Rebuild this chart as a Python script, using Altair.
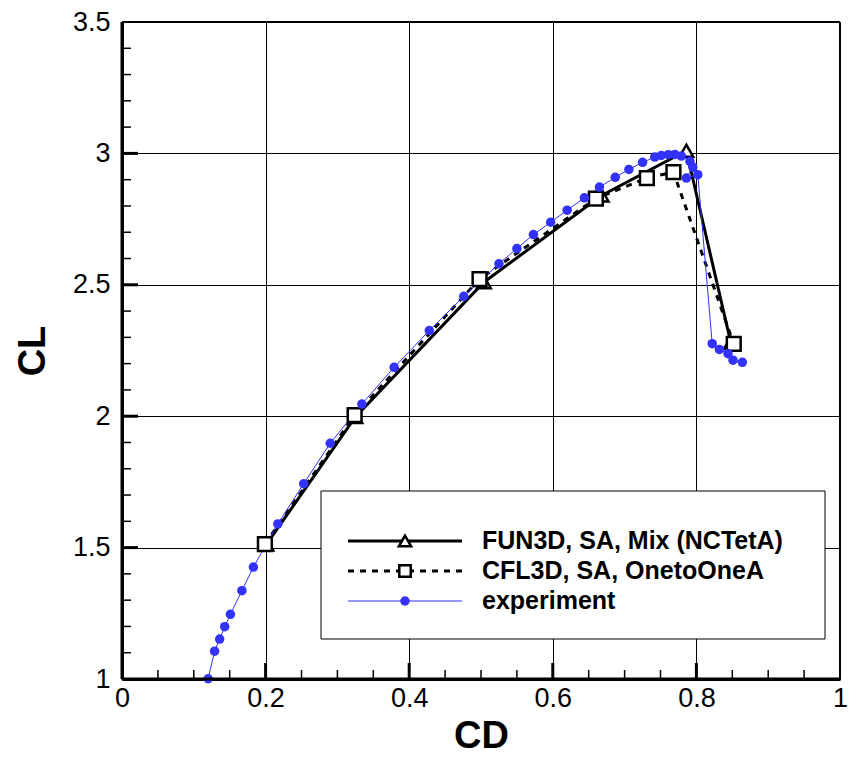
import altair as alt
import pandas as pd

# ---- data ----
fun3d_cd = [0.201, 0.325, 0.504, 0.668, 0.786, 0.848]
fun3d_cl = [1.512, 1.997, 2.510, 2.840, 3.010, 2.279]

cfl3d_cd = [0.199, 0.324, 0.498, 0.660, 0.731, 0.768, 0.852]
cfl3d_cl = [1.513, 2.004, 2.522, 2.828, 2.906, 2.929, 2.275]

exp_cd = [0.120, 0.129, 0.136, 0.143, 0.151, 0.167, 0.183, 0.217, 0.253, 0.290,
          0.334, 0.379, 0.428, 0.476, 0.525, 0.550, 0.573, 0.597, 0.620, 0.644,
          0.665, 0.687, 0.706, 0.725, 0.742, 0.751, 0.761, 0.770, 0.779, 0.791,
          0.795, 0.786, 0.802, 0.822, 0.832, 0.844, 0.851, 0.864]
exp_cl = [1.001, 1.106, 1.152, 1.199, 1.246, 1.336, 1.426, 1.590, 1.743, 1.897,
          2.046, 2.186, 2.326, 2.456, 2.580, 2.638, 2.691, 2.738, 2.784, 2.831,
          2.872, 2.909, 2.939, 2.966, 2.986, 2.992, 2.995, 2.996, 2.990, 2.970,
          2.948, 2.906, 2.919, 2.276, 2.254, 2.238, 2.213, 2.205]

x_major = [0, 0.2, 0.4, 0.6, 0.8, 1]
y_major = [1, 1.5, 2, 2.5, 3, 3.5]
x_minor = [0.05, 0.1, 0.15, 0.25, 0.3, 0.35, 0.45, 0.5, 0.55, 0.65, 0.7, 0.75, 0.85, 0.9, 0.95]
y_minor = [1.1, 1.2, 1.3, 1.4, 1.6, 1.7, 1.8, 1.9, 2.1, 2.2, 2.3, 2.4, 2.6, 2.7, 2.8, 2.9,
           3.1, 3.2, 3.3, 3.4]

legend_labels = ["FUN3D, SA, Mix (NCTetA)", "CFL3D, SA, OnetoOneA", "experiment"]

# ---- layout ----
W, H = 718, 657
XMIN, XMAX, YMIN, YMAX = 0.0, 1.0, 1.0, 3.5
FONT = "Liberation Sans"
BLUE = "#3232fa"
MAJ_LEN, MIN_LEN = 16, 9  # tick lengths in pixels

fun3d = pd.DataFrame({"cd": fun3d_cd, "cl": fun3d_cl, "i": range(len(fun3d_cd))})
cfl3d = pd.DataFrame({"cd": cfl3d_cd, "cl": cfl3d_cl, "i": range(len(cfl3d_cd))})
exp = pd.DataFrame({"cd": exp_cd, "cl": exp_cl, "i": range(len(exp_cd))})

xs = alt.Scale(domain=[XMIN, XMAX], nice=False, zero=False)
ys = alt.Scale(domain=[YMIN, YMAX], nice=False, zero=False)

x_axis = alt.Axis(values=x_major, format="~g", grid=True, gridColor="black", gridWidth=1,
                  gridOpacity=1, ticks=False, labelFontSize=27, labelFont=FONT,
                  labelColor="black", labelPadding=6, labelFlush=False, labelOverlap=False,
                  domain=True, domainColor="black", domainWidth=3, title="CD", titleFont=FONT,
                  titleFontSize=38, titleFontWeight="bold", titleColor="black", titlePadding=6)
y_axis = alt.Axis(values=y_major, format="~g", grid=True, gridColor="black", gridWidth=1,
                  gridOpacity=1, ticks=False, labelFontSize=27, labelFont=FONT,
                  labelColor="black", labelPadding=12, labelFlush=False, labelOverlap=False,
                  domain=True, domainColor="black", domainWidth=3, title="CL", titleFont=FONT,
                  titleFontSize=38, titleFontWeight="bold", titleColor="black", titlePadding=20)

X = lambda: alt.X("cd:Q", scale=xs)
Y = lambda: alt.Y("cl:Q", scale=ys)

base_axes = alt.Chart(exp).mark_point(opacity=0).encode(
    x=alt.X("cd:Q", scale=xs, axis=x_axis), y=alt.Y("cl:Q", scale=ys, axis=y_axis))

# inward tick marks table
tick_rows = ([{"cd": v, "cl": YMIN, "o": "x", "len": MAJ_LEN, "w": 3} for v in x_major[1:-1]] +
             [{"cd": v, "cl": YMIN, "o": "x", "len": MIN_LEN, "w": 1.5} for v in x_minor] +
             [{"cd": XMIN, "cl": v, "o": "y", "len": MAJ_LEN, "w": 3} for v in y_major[1:-1]] +
             [{"cd": XMIN, "cl": v, "o": "y", "len": MIN_LEN, "w": 1.5} for v in y_minor])
tick_df = pd.DataFrame(tick_rows)

xt = alt.Chart(tick_df).transform_filter("datum.o == 'x'").transform_calculate(
    cl2=f"datum.cl + datum.len * {(YMAX - YMIN) / H}").mark_rule(
    color="black", strokeOpacity=1, clip=False).encode(
    x=X(), y=Y(), y2="cl2:Q", strokeWidth=alt.StrokeWidth("w:Q", scale=None))
yt = alt.Chart(tick_df).transform_filter("datum.o == 'y'").transform_calculate(
    cd2=f"datum.cd + datum.len * {(XMAX - XMIN) / W}").mark_rule(
    color="black", strokeOpacity=1, clip=False).encode(
    x=X(), x2="cd2:Q", y=Y(), strokeWidth=alt.StrokeWidth("w:Q", scale=None))

# frame: all four edges, heavier on left/bottom
edges = pd.DataFrame({"cd": [XMIN, XMIN, XMIN, XMAX], "cd2": [XMIN, XMAX, XMAX, XMAX],
                      "cl": [YMIN, YMIN, YMAX, YMIN], "cl2": [YMAX, YMIN, YMAX, YMAX],
                      "w": [3, 3, 2, 2]})
frame = alt.Chart(edges).mark_rule(color="black", strokeOpacity=1, clip=False).encode(
    x=X(), x2="cd2:Q", y=Y(), y2="cl2:Q", strokeWidth=alt.StrokeWidth("w:Q", scale=None))

fun_line = alt.Chart(fun3d).mark_line(color="black", strokeWidth=3).encode(
    x=X(), y=Y(), order="i:Q")
fun_pts = alt.Chart(fun3d).mark_point(shape="triangle-up", filled=True, fill="white",
                                       stroke="black", strokeWidth=2.5, size=190, opacity=1).encode(x=X(), y=Y())
cfl_line = alt.Chart(cfl3d).mark_line(color="black", strokeWidth=3, strokeDash=[6, 6]).encode(
    x=X(), y=Y(), order="i:Q")
cfl_pts = alt.Chart(cfl3d).mark_point(shape="square", filled=True, fill="white",
                                       stroke="black", strokeWidth=2.5, size=190, opacity=1).encode(x=X(), y=Y())
exp_line = alt.Chart(exp).mark_line(color=BLUE, strokeWidth=1).encode(x=X(), y=Y(), order="i:Q")
exp_pts = alt.Chart(exp).mark_circle(color=BLUE, size=90, opacity=1).encode(x=X(), y=Y())

# legend
one = alt.Data(values=[{}])
LX0, LX1, LSYM, LTX = 226, 340, 283, 360
rows = [519, 549, 579]
box = alt.Chart(one).mark_rect(fill="white", stroke="black", strokeWidth=1).encode(
    x=alt.value(199), x2=alt.value(703), y=alt.value(469), y2=alt.value(617))
leg = [box]
leg.append(alt.Chart(one).mark_rule(color="black", strokeWidth=3).encode(
    x=alt.value(LX0), x2=alt.value(LX1), y=alt.value(rows[0])))
leg.append(alt.Chart(one).mark_rule(color="black", strokeWidth=3, strokeDash=[6, 6]).encode(
    x=alt.value(LX0), x2=alt.value(LX1), y=alt.value(rows[1])))
leg.append(alt.Chart(one).mark_rule(color=BLUE, strokeWidth=1).encode(
    x=alt.value(LX0), x2=alt.value(LX1), y=alt.value(rows[2])))
leg.append(alt.Chart(one).mark_point(shape="triangle-up", filled=True, fill="white", stroke="black",
                                     strokeWidth=2.5, size=150, opacity=1).encode(
    x=alt.value(LSYM), y=alt.value(rows[0])))
leg.append(alt.Chart(one).mark_point(shape="square", filled=True, fill="white", stroke="black",
                                     strokeWidth=2.5, size=130, opacity=1).encode(
    x=alt.value(LSYM), y=alt.value(rows[1])))
leg.append(alt.Chart(one).mark_circle(color=BLUE, size=90, opacity=1).encode(
    x=alt.value(LSYM), y=alt.value(rows[2])))
for lab, ry in zip(legend_labels, rows):
    leg.append(alt.Chart(one).mark_text(align="left", baseline="middle", font=FONT, fontSize=25,
                                        fontWeight="bold", color="black").encode(
        x=alt.value(LTX), y=alt.value(ry), text=alt.value(lab)))

# ticks and frame are drawn last so nothing can cover them
chart = alt.layer(base_axes, fun_line, cfl_line, exp_line, fun_pts, cfl_pts, exp_pts,
                  *leg, xt, yt, frame).properties(
    width=W, height=H,
    autosize=alt.AutoSizeParams(type="none"),
    padding={"left": 114, "top": 14, "right": 8, "bottom": 76},
).configure(background="white").configure_view(strokeWidth=0)

chart.save("out.html", embed_options={"renderer": "svg", "actions": False})
